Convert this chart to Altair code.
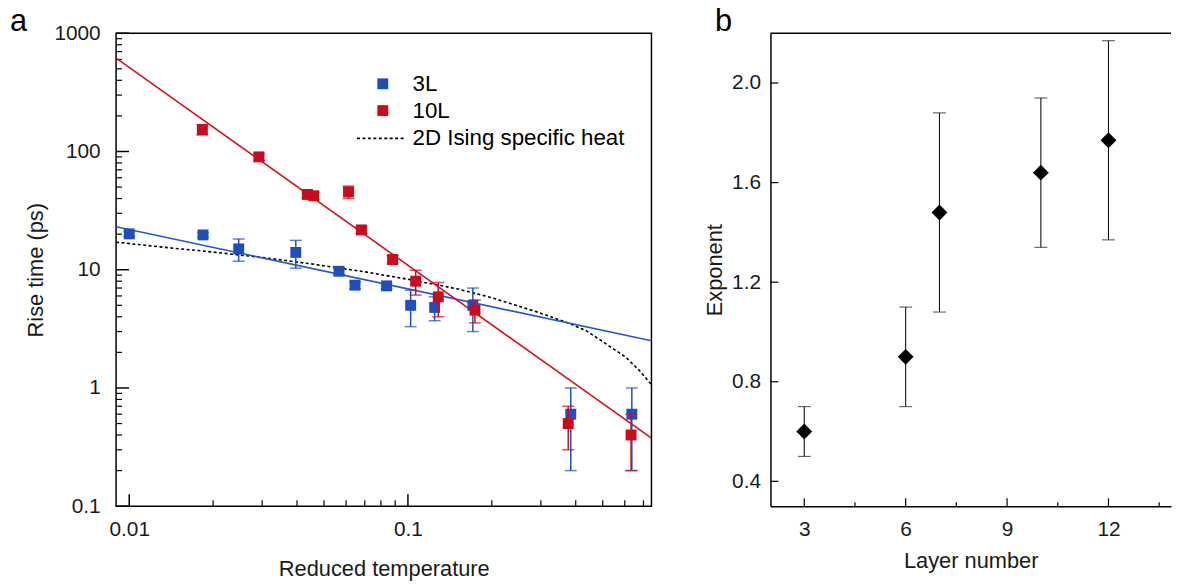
import altair as alt
import pandas as pd

FONT = "Liberation Sans"

# ---------------- panel a data ----------------
t_3L = [0.0100, 0.0184, 0.0247, 0.0396, 0.0566, 0.0646, 0.0838, 0.1023, 0.1247, 0.171, 0.384, 0.636]
rise_3L = [20.1, 19.7, 15.0, 14.0, 9.7, 7.4, 7.3, 5.0, 4.8, 5.0, 0.6, 0.6]
err_3L = [1.0, 0.9, 3.2, 3.7, 0.6, 0.5, 0.4, 1.7, 1.1, 2.0, 0.4, 0.4]

t_10L = [0.0183, 0.0292, 0.0436, 0.0459, 0.0612, 0.0681, 0.0881, 0.1066, 0.1285, 0.174, 0.376, 0.632]
rise_10L = [153, 90, 43.3, 42.2, 45.5, 21.7, 12.2, 8.0, 5.9, 4.55, 0.50, 0.40]
err_10L = [15, 6, 3, 3, 5.5, 1.5, 1.0, 1.9, 1.9, 1.0, 0.2, 0.2]

fit_3L_t = [0.00897, 0.748]
fit_3L_v = [23.1, 2.51]
fit_10L_t = [0.00897, 0.748]
fit_10L_v = [616, 0.377]

ising_t = [0.00897, 0.0129, 0.02, 0.03, 0.045, 0.07, 0.1, 0.15, 0.2, 0.29, 0.372, 0.436, 0.514, 0.605, 0.676, 0.748]
ising_c = [17.1, 15.6, 14.1, 12.7, 11.2, 9.6, 8.3, 6.9, 5.8, 4.4, 3.58, 3.05, 2.36, 1.82, 1.41, 1.07]

legend_labels = ["3L", "10L", "2D Ising specific heat"]

a_x_major = [0.01, 0.1]
a_x_minor = [0.02, 0.03, 0.04, 0.05, 0.06, 0.07, 0.08, 0.09, 0.2, 0.3, 0.4, 0.5, 0.6, 0.7]
a_y_major = [0.1, 1, 10, 100, 1000]
a_y_minor = [0.2, 0.3, 0.4, 0.5, 0.6, 0.7, 0.8, 0.9,
             2, 3, 4, 5, 6, 7, 8, 9,
             20, 30, 40, 50, 60, 70, 80, 90,
             200, 300, 400, 500, 600, 700, 800, 900]

# ---------------- panel b data ----------------
layer_number = [3, 6, 7, 10, 12]
exponent = [0.60, 0.90, 1.48, 1.64, 1.77]
exponent_err = [0.10, 0.20, 0.40, 0.30, 0.40]

b_x_major = [3, 6, 9, 12]
b_x_minor = [4.5, 7.5, 10.5, 13.5]
b_y_major = [0.4, 0.8, 1.2, 1.6, 2.0]

BLUE = "#1f4fbf"
RED = "#cc0a1e"
BLUE_LINE = "#2558cf"
RED_LINE = "#d4121f"

WA, HA = 540, 477
WB, HB = 404, 477

xa = alt.Scale(type="log", domain=[0.00897, 0.748], nice=False)
ya = alt.Scale(type="log", domain=[0.1, 1000], nice=False)

x_axis_a = alt.Axis(values=a_x_major, format="~g", ticks=False, domain=False, grid=False,
                    labelPadding=13, labelFlush=False, labelOverlap=False,
                    title="Reduced temperature", titlePadding=19)
y_axis_a = alt.Axis(values=a_y_major, format="~g", ticks=False, domain=False, grid=False,
                    labelPadding=16, labelFlush=False, labelOverlap=False,
                    title="Rise time (ps)", titlePadding=6)

df3 = pd.DataFrame({"t": t_3L, "v": rise_3L, "e": err_3L})
df3["lo"] = df3["v"] - df3["e"]
df3["hi"] = df3["v"] + df3["e"]
df10 = pd.DataFrame({"t": t_10L, "v": rise_10L, "e": err_10L})
df10["lo"] = df10["v"] - df10["e"]
df10["hi"] = df10["v"] + df10["e"]

fit3 = pd.DataFrame({"t": fit_3L_t, "v": fit_3L_v})
fit10 = pd.DataFrame({"t": fit_10L_t, "v": fit_10L_v})
ising = pd.DataFrame({"t": ising_t, "v": ising_c})


def X():
    return alt.X("t:Q", scale=xa, axis=x_axis_a)


def Y(f="v"):
    return alt.Y(f + ":Q", scale=ya, axis=y_axis_a)


x_major = alt.Chart(pd.DataFrame({"t": a_x_major})).mark_rule(color="black", strokeWidth=1.5).encode(
    x=X(), y=alt.value(HA), y2=alt.value(HA - 12))
y_major = alt.Chart(pd.DataFrame({"v": a_y_major})).mark_rule(color="black", strokeWidth=1.5).encode(
    y=Y(), x=alt.value(0), x2=alt.value(13))
x_minor = alt.Chart(pd.DataFrame({"t": a_x_minor})).mark_rule(color="black", strokeWidth=1.2).encode(
    x=X(), y=alt.value(HA), y2=alt.value(HA - 6))
y_minor = alt.Chart(pd.DataFrame({"v": a_y_minor})).mark_rule(color="black", strokeWidth=1.2).encode(
    y=Y(), x=alt.value(0), x2=alt.value(6))

ising_line = alt.Chart(ising).mark_line(color="black", strokeWidth=1.6, strokeDash=[3, 2.5], clip=True).encode(
    x=X(), y=Y())
fit3_line = alt.Chart(fit3).mark_line(color=BLUE_LINE, strokeWidth=1.6, clip=True).encode(
    x=X(), y=Y())
fit10_line = alt.Chart(fit10).mark_line(color=RED_LINE, strokeWidth=1.6, clip=True).encode(
    x=X(), y=Y())


def series_layers(df, color):
    bar = alt.Chart(df).mark_rule(color=color, strokeWidth=1.5).encode(
        x=X(), y=Y("lo"), y2="hi:Q")
    cap_lo = alt.Chart(df).mark_tick(color=color, orient="horizontal", size=12, thickness=1.5).encode(
        x=X(), y=Y("lo"))
    cap_hi = alt.Chart(df).mark_tick(color=color, orient="horizontal", size=12, thickness=1.5).encode(
        x=X(), y=Y("hi"))
    pts = alt.Chart(df).mark_square(color=color, size=121, opacity=1, strokeWidth=0).encode(
        x=X(), y=Y())
    return [bar, cap_lo, cap_hi, pts]


leg = pd.DataFrame({"label": legend_labels})
leg_sq3 = alt.Chart(leg.iloc[[0]]).mark_square(color=BLUE, size=121, opacity=1, strokeWidth=0).encode(
    x=alt.value(269), y=alt.value(51))
leg_sq10 = alt.Chart(leg.iloc[[1]]).mark_square(color=RED, size=121, opacity=1, strokeWidth=0).encode(
    x=alt.value(269), y=alt.value(78))
leg_dash = alt.Chart(leg.iloc[[2]]).mark_rule(color="black", strokeWidth=1.6, strokeDash=[3, 2.5]).encode(
    x=alt.value(243), x2=alt.value(291), y=alt.value(106))
leg_txt = []
for i, (lx, ly) in enumerate([(299, 51), (299, 78), (299, 106)]):
    leg_txt.append(alt.Chart(leg.iloc[[i]]).mark_text(
        align="left", baseline="middle", font=FONT, fontSize=22.5, color="black").encode(
        x=alt.value(lx), y=alt.value(ly), text="label:N"))

letter_a = alt.Chart(pd.DataFrame({"label": ["a"]})).mark_text(
    align="left", baseline="alphabetic", font=FONT, fontSize=31, color="black").encode(
    x=alt.value(-107), y=alt.value(-2), text="label:N")

panel_a = alt.layer(
    x_major, y_major, x_minor, y_minor,
    ising_line, fit3_line, fit10_line,
    *series_layers(df3, BLUE), *series_layers(df10, RED),
    leg_sq3, leg_sq10, leg_dash, *leg_txt, letter_a,
).properties(width=WA, height=HA,
             view=alt.ViewBackground(stroke="black", strokeWidth=1.5))

# ---------------- panel b ----------------
xb = alt.Scale(domain=[2, 13.85], nice=False, zero=False)
yb = alt.Scale(domain=[0.3, 2.2], nice=False, zero=False)

x_axis_b = alt.Axis(values=b_x_major, format="d", ticks=False, domain=True, domainColor="black",
                    domainWidth=1.5, grid=False, labelPadding=13, labelFlush=False,
                    title="Layer number", titlePadding=11)
y_axis_b = alt.Axis(values=b_y_major, format=".1f", ticks=False, domain=True, domainColor="black",
                    domainWidth=1.5, grid=False, labelPadding=10, labelFlush=False,
                    title="Exponent", titlePadding=5)


def XB(f="n"):
    return alt.X(f + ":Q", scale=xb, axis=x_axis_b)


def YB(f="p"):
    return alt.Y(f + ":Q", scale=yb, axis=y_axis_b)


dfb = pd.DataFrame({"n": layer_number, "p": exponent, "e": exponent_err})
dfb["lo"] = dfb["p"] - dfb["e"]
dfb["hi"] = dfb["p"] + dfb["e"]

bx_major = alt.Chart(pd.DataFrame({"n": b_x_major})).mark_rule(color="black", strokeWidth=1.2).encode(
    x=XB(), y=alt.value(HB), y2=alt.value(HB - 8))
bx_minor = alt.Chart(pd.DataFrame({"n": b_x_minor})).mark_rule(color="black", strokeWidth=1.2).encode(
    x=XB(), y=alt.value(HB), y2=alt.value(HB - 4))
by_major = alt.Chart(pd.DataFrame({"p": b_y_major})).mark_rule(color="black", strokeWidth=1.2).encode(
    y=YB(), x=alt.value(0), x2=alt.value(8))
top_line = alt.Chart(pd.DataFrame({"label": ["b"]})).mark_rule(color="black", strokeWidth=1.5).encode(
    x=alt.value(0), x2=alt.value(WB), y=alt.value(0))

b_bar = alt.Chart(dfb).mark_rule(color="#111111", strokeWidth=1.1).encode(
    x=XB(), y=YB("lo"), y2="hi:Q")
b_cap_lo = alt.Chart(dfb).mark_tick(color="#111111", orient="horizontal", size=13, thickness=1.1).encode(
    x=XB(), y=YB("lo"))
b_cap_hi = alt.Chart(dfb).mark_tick(color="#111111", orient="horizontal", size=13, thickness=1.1).encode(
    x=XB(), y=YB("hi"))
b_pts = alt.Chart(dfb).mark_point(shape="diamond", filled=True, size=256, color="black", opacity=1).encode(
    x=XB(), y=YB())

letter_b = alt.Chart(pd.DataFrame({"label": ["b"]})).mark_text(
    align="left", baseline="alphabetic", font=FONT, fontSize=31, color="black").encode(
    x=alt.value(-56), y=alt.value(-2), text="label:N")

panel_b = alt.layer(
    bx_major, by_major, bx_minor, top_line, b_bar, b_cap_lo, b_cap_hi, b_pts, letter_b
).properties(width=WB, height=HB,
             view=alt.ViewBackground(stroke="transparent", strokeWidth=0))

chart = alt.hconcat(panel_a, panel_b, spacing=120, bounds="flush").properties(
    padding={"left": 1, "top": -5, "right": 0, "bottom": 0}
).configure_axis(
    labelFont=FONT, labelFontSize=21, labelColor="#1a1a1a",
    titleFont=FONT, titleFontSize=22, titleFontWeight="normal", titleColor="#1a1a1a",
).configure_view(stroke="black", strokeWidth=1.5)

chart.save("out.html", embed_options={"renderer": "svg", "actions": False})
